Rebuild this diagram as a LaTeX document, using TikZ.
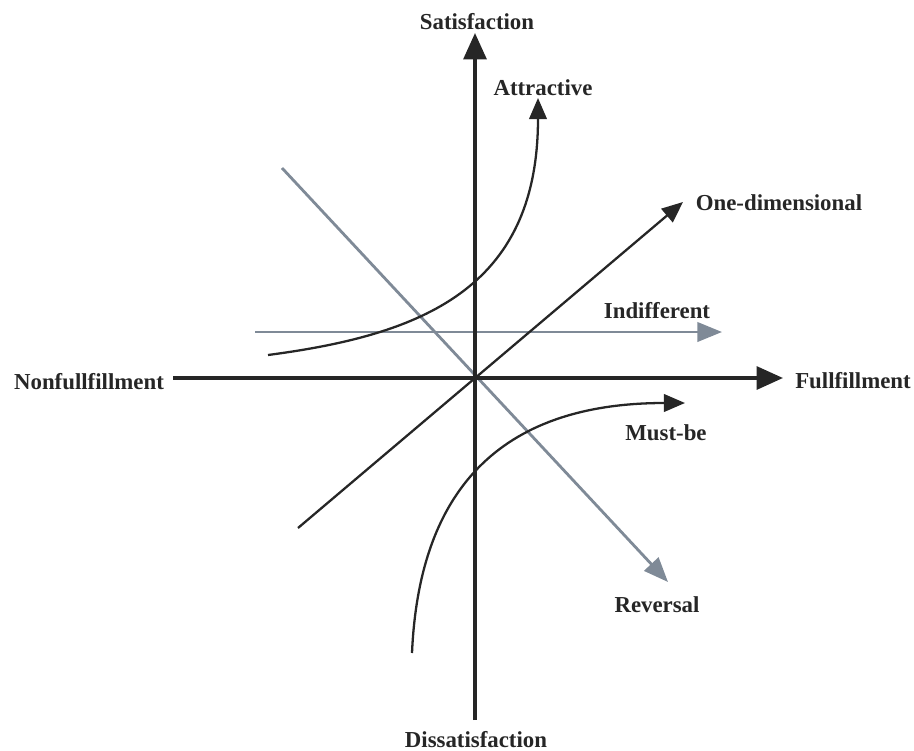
\documentclass[tikz,border=0pt]{standalone}
\usepackage{fontspec}
\setmainfont{Liberation Serif}
\usetikzlibrary{arrows.meta}
\definecolor{ink}{HTML}{262626}
\definecolor{slate}{HTML}{7F8A97}
\begin{document}
\begin{tikzpicture}[x=0.02cm,y=-0.02cm,
  lbl/.style={font=\fontsize{13}{15}\selectfont\bfseries, text=ink, inner sep=0pt},
  axis/.style={draw=ink, line width=2pt, -{Triangle[length=15pt,width=13pt]}},
  curvearrow/.style={draw=ink, line width=1.3pt, -{Triangle[length=12pt,width=10pt]}},
  grayarrow/.style={draw=slate, line width=1.6pt, -{Triangle[length=14pt,width=11pt]}}]
\useasboundingbox (0,0) rectangle (914,751);
% anchor coordinates
\coordinate (O) at (475,378);
\coordinate (vbot) at (475,720);
\coordinate (vtop) at (475,33);
\coordinate (hleft) at (173,378);
\coordinate (hright) at (783,378);
\coordinate (attS) at (268,355);
\coordinate (attE) at (538,98);
\coordinate (indS) at (255,332);
\coordinate (indE) at (722,332);
\coordinate (revS) at (282,168);
\coordinate (revE) at (668,582);
\coordinate (oneS) at (298,528);
\coordinate (oneE) at (683,202);
\coordinate (musS) at (412,653);
\coordinate (musE) at (685,403);
% labels
\node[lbl] (sat) at (477,22) {Satisfaction};
\node[lbl] (dis) at (476,740) {Dissatisfaction};
\node[lbl] (non) at (89,382) {Nonfullfillment};
\node[lbl] (ful) at (853,381) {Fullfillment};
\node[lbl] (att) at (543,88) {Attractive};
\node[lbl] (one) at (779,203) {One-dimensional};
\node[lbl] (ind) at (657,311) {Indifferent};
\node[lbl] (mus) at (666,433) {Must-be};
\node[lbl] (rev) at (657,605) {Reversal};
% gray lines
\draw[grayarrow] (indS) -- (indE);
\draw[grayarrow] (revS) -- (revE);
% axes
\draw[axis] (vbot) -- (vtop);
\draw[axis] (hleft) -- (hright);
% curves
\draw[curvearrow] (oneS) -- (oneE);
\draw[curvearrow] (attS) .. controls (420,335) and (538,290) .. (attE);
\draw[curvearrow] (musS) .. controls (420,470) and (520,403) .. (musE);
\end{tikzpicture}
\end{document}
